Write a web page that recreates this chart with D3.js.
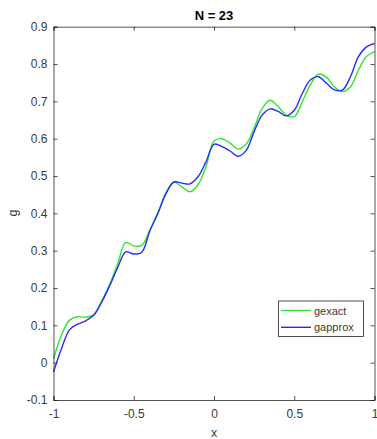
<!DOCTYPE html>
<html>
<head>
<meta charset="utf-8">
<script src="https://cdn.jsdelivr.net/npm/d3@7"></script>
<style>
  html, body { margin: 0; padding: 0; background: #fff; }
  svg { display: block; font-family: "Liberation Sans", Arial, Helvetica, sans-serif; }
</style>
</head>
<body>
<svg id="chart" width="377" height="439"></svg>
<script>
// Sample points along x
const xs = [-1, -0.95, -0.9, -0.85, -0.8, -0.75, -0.7, -0.65, -0.6, -0.55,
            -0.5, -0.45, -0.4, -0.35, -0.3, -0.25, -0.2, -0.15, -0.1, -0.05,
            0, 0.05, 0.1, 0.15, 0.2, 0.25, 0.3, 0.35, 0.4, 0.45,
            0.5, 0.55, 0.6, 0.65, 0.7, 0.75, 0.8, 0.85, 0.9, 0.95, 1];

// Exact function values
const gexact = [0.010, 0.074, 0.114, 0.123, 0.122, 0.128, 0.165, 0.210, 0.265, 0.322,
                0.313, 0.314, 0.355, 0.400, 0.455, 0.483, 0.471, 0.458, 0.476, 0.525,
                0.594, 0.600, 0.588, 0.572, 0.585, 0.628, 0.681, 0.703, 0.686, 0.663,
                0.659, 0.699, 0.744, 0.773, 0.765, 0.739, 0.726, 0.739, 0.784, 0.820, 0.833];

// Approximation with N = 23 terms
const gapprox = [-0.025, 0.038, 0.088, 0.103, 0.112, 0.127, 0.162, 0.206, 0.255, 0.297,
                 0.291, 0.296, 0.353, 0.400, 0.452, 0.484, 0.481, 0.479, 0.498, 0.538,
                 0.585, 0.579, 0.567, 0.553, 0.568, 0.619, 0.663, 0.680, 0.673, 0.661,
                 0.676, 0.721, 0.757, 0.766, 0.749, 0.731, 0.730, 0.766, 0.820, 0.846, 0.855];

const xTicks = [-1, -0.5, 0, 0.5, 1];
const yTicks = [-0.1, 0, 0.1, 0.2, 0.3, 0.4, 0.5, 0.6, 0.7, 0.8, 0.9];

const titleText = "N = 23";
const xLabel = "x";
const yLabel = "g";
const seriesNames = ["gexact", "gapprox"];
const seriesColors = ["#2ee82e", "#2a2aff"];

const svg = d3.select("#chart");
const axisColor = "#262626";
const labelColor = "#3a3a3a";

const x = d3.scaleLinear().domain([-1, 1]).range([53.5, 374.5]);
const y = d3.scaleLinear().domain([-0.1, 0.9]).range([400, 26.7]);

const fmt = d => (d === 0 ? "0" : String(d));
const tickLen = 4;

// Series lines
const line = d3.line()
  .x((d, i) => x(xs[i]))
  .y(d => y(d))
  .curve(d3.curveCatmullRom.alpha(0.5));

[gexact, gapprox].forEach((vals, k) => {
  svg.append("path")
    .datum(vals)
    .attr("d", line)
    .attr("fill", "none")
    .attr("stroke", seriesColors[k])
    .attr("stroke-width", 1.4);
});

// Axes (ticks pointing inward, box on)
const axBottom = svg.append("g").attr("transform", `translate(0,${y(-0.1)})`)
  .call(d3.axisBottom(x).tickValues(xTicks).tickFormat(fmt).tickSize(-tickLen).tickPadding(9));
const axTop = svg.append("g").attr("transform", `translate(0,${y(0.9)})`)
  .call(d3.axisTop(x).tickValues(xTicks).tickFormat("").tickSize(-tickLen));
const axLeft = svg.append("g").attr("transform", `translate(${x(-1)},0)`)
  .call(d3.axisLeft(y).tickValues(yTicks).tickFormat(fmt).tickSize(-tickLen).tickPadding(6));
const axRight = svg.append("g").attr("transform", `translate(${x(1)},0)`)
  .call(d3.axisRight(y).tickValues(yTicks).tickFormat("").tickSize(-tickLen));

[axBottom, axTop, axLeft, axRight].forEach(g => {
  g.select(".domain").attr("stroke", axisColor).attr("stroke-width", 0.8);
  g.selectAll(".tick line").attr("stroke", axisColor).attr("stroke-width", 0.8);
  g.selectAll(".tick text")
    .attr("fill", labelColor)
    .style("font-size", "12px")
    .style("font-family", "'Liberation Sans', Arial, sans-serif");
});

// Title and axis labels
svg.append("text")
  .attr("x", 214).attr("y", 20)
  .attr("text-anchor", "middle")
  .attr("fill", "#000")
  .style("font-size", "13px")
  .style("font-weight", "bold")
  .text(titleText);

svg.append("text")
  .attr("x", 214).attr("y", 437)
  .attr("text-anchor", "middle")
  .attr("fill", labelColor)
  .style("font-size", "12.5px")
  .text(xLabel);

svg.append("text")
  .attr("transform", "translate(17,213) rotate(-90)")
  .attr("text-anchor", "middle")
  .attr("fill", labelColor)
  .style("font-size", "12.5px")
  .text(yLabel);

// Legend
const lg = svg.append("g");
lg.append("rect")
  .attr("x", 278.5).attr("y", 301)
  .attr("width", 85).attr("height", 35.5)
  .attr("fill", "#fff")
  .attr("stroke", axisColor)
  .attr("stroke-width", 0.8);

seriesNames.forEach((name, i) => {
  const cy = 310.5 + i * 16.8;
  lg.append("line")
    .attr("x1", 281).attr("x2", 311)
    .attr("y1", cy).attr("y2", cy)
    .attr("stroke", seriesColors[i])
    .attr("stroke-width", 1.4);
  lg.append("text")
    .attr("x", 314).attr("y", cy + 4)
    .attr("fill", labelColor)
    .style("font-size", "11px")
    .text(name);
});
</script>
</body>
</html>
